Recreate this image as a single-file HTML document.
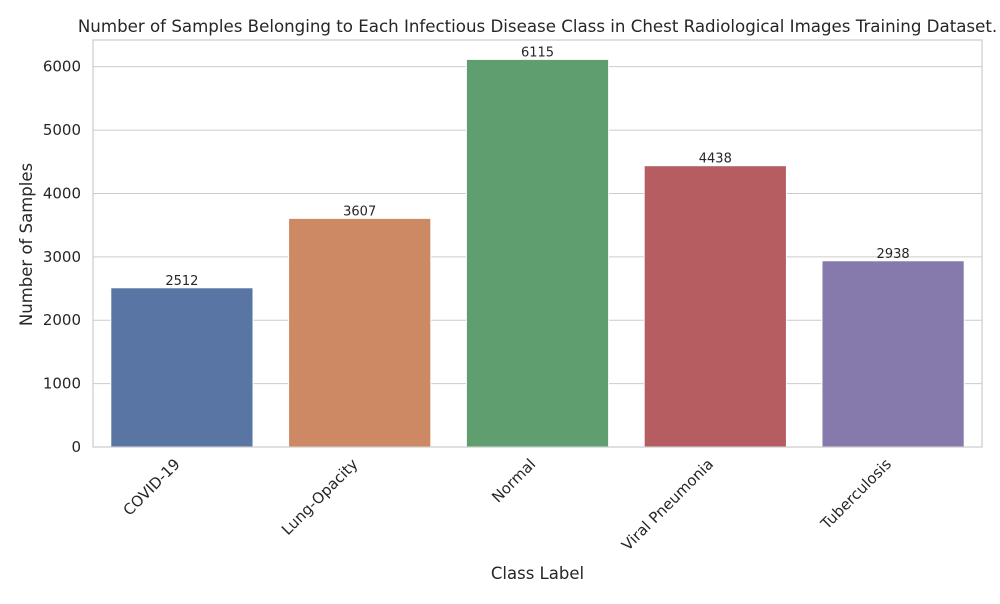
<!DOCTYPE html>
<html><head><meta charset="utf-8"><style>
body{margin:0;background:#fff;font-family:"DejaVu Sans","Liberation Sans",sans-serif;}
</style></head><body>
<svg id="chart" width="1000" height="600" xmlns="http://www.w3.org/2000/svg" font-family="DejaVu Sans, Liberation Sans, sans-serif"></svg>
<script>
const categories=["COVID-19","Lung-Opacity","Normal","Viral Pneumonia","Tuberculosis"];
const values=[2512,3607,6115,4438,2938];
const colors=["#5975a4","#cc8963","#5f9e6e","#b55d60","#857aab"];
const yTicks=[0,1000,2000,3000,4000,5000,6000];
const svg=document.getElementById('chart');
const NS="http://www.w3.org/2000/svg";
const L=93,R=982,T=40,B=447,yMax=6421;
const y=v=>B-(v/yMax)*(B-T);
const band=(R-L)/categories.length;
const xc=i=>L+band*(i+0.5);
function mk(tag,attrs,text){const e=document.createElementNS(NS,tag);for(const k in attrs)e.setAttribute(k,attrs[k]);if(text!==undefined)e.textContent=text;svg.appendChild(e);return e;}
let e=mk('rect',{x:L,y:T,width:R-L,height:B-T,fill:'#fff'});


yTicks.forEach(t=>{
 let g=mk('line',{x1:L,x2:R,y1:y(t),y2:y(t),stroke:'#cccccc','stroke-width':1});
 
 
 let l=mk('text',{x:L-12,y:y(t)+5,'text-anchor':'end','font-size':15,fill:'#262626'},String(t));
 
 
});
categories.forEach((c,i)=>{
 const w=band*0.8;
 let b=mk('rect',{x:xc(i)-w/2,y:y(values[i]),width:w,height:B-y(values[i]),fill:colors[i],stroke:'#fff','stroke-width':1});
 
 
 let v=mk('text',{x:xc(i),y:y(values[i])-3,'text-anchor':'middle','font-size':13,fill:'#262626'},String(values[i]));
 
 
 let t=mk('text',{x:0,y:0,'text-anchor':'end','font-size':15,fill:'#262626',transform:`translate(${xc(i)-1},${B+18}) rotate(-45)`},c);
 
 
});
let fr=mk('rect',{x:L,y:T,width:R-L,height:B-T,fill:'none',stroke:'#cccccc','stroke-width':1.2});


let ti=mk('text',{x:537.5,y:32,'text-anchor':'middle','font-size':16.65,fill:'#262626'},'Number of Samples Belonging to Each Infectious Disease Class in Chest Radiological Images Training Dataset.');


let xt=mk('text',{x:(L+R)/2,y:579,'text-anchor':'middle','font-size':16.5,fill:'#262626'},'Class Label');


let yt=mk('text',{x:0,y:0,'text-anchor':'middle','font-size':16.5,fill:'#262626',transform:`translate(32,${(T+B)/2+1}) rotate(-90)`},'Number of Samples');


</script>
</body></html>
